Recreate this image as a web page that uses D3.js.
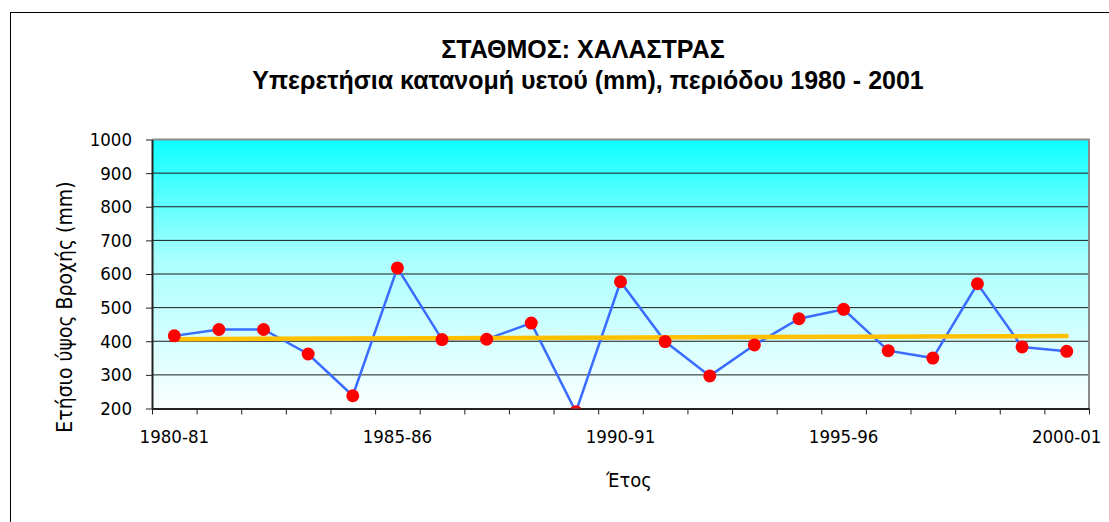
<!DOCTYPE html>
<html>
<head>
<meta charset="utf-8">
<script src="https://cdn.jsdelivr.net/npm/d3@7"></script>
<style>
  body { margin: 0; background: #fff; }
  svg { display: block; }
  .tick text { font-family: "DejaVu Sans Condensed", "DejaVu Sans", sans-serif; font-size: 18.5px; fill: #000; }
  .axis-title { font-family: "DejaVu Sans Condensed", "DejaVu Sans", sans-serif; }
</style>
</head>
<body>
<div class="chart"></div>
<script>
// Chart data (annual rainfall, mm)
const seasons = ['1980-81', '1981-82', '1982-83', '1983-84', '1984-85', '1985-86', '1986-87',
  '1987-88', '1988-89', '1989-90', '1990-91', '1991-92', '1992-93', '1993-94', '1994-95',
  '1995-96', '1996-97', '1997-98', '1998-99', '1999-00', '2000-01'];
const rainfall = [416, 435, 435, 362, 238, 618, 405, 406, 454, 190, 577,
  399, 297, 389, 467, 495, 372, 350, 571, 383, 370];
const labelledSeasons = ['1980-81', '1985-86', '1990-91', '1995-96', '2000-01'];
const yTicks = [200, 300, 400, 500, 600, 700, 800, 900, 1000];

const width = 1109, height = 522;
const plot = { left: 152, right: 1089, top: 139.5, bottom: 408.5 };

const svg = d3.select('.chart').append('svg')
    .attr('width', width)
    .attr('height', height);

// outer chart frame
svg.append('rect')
    .attr('x', 10.5).attr('y', 12.5)
    .attr('width', 1180).attr('height', 530)
    .attr('fill', 'none').attr('stroke', '#000').attr('stroke-width', 1);

// Scales
const xScale = d3.scaleBand().domain(seasons).range([plot.left, plot.right]).padding(0);
const xEdge = d3.scaleLinear().domain([0, seasons.length]).range([plot.left, plot.right]);
const yScale = d3.scaleLinear().domain([200, 1000]).range([plot.bottom, plot.top]);
const cx = s => xScale(s) + xScale.bandwidth() / 2;

// plot background gradient
const defs = svg.append('defs');
const grad = defs.append('linearGradient').attr('id', 'bg')
    .attr('x1', 0).attr('y1', 0).attr('x2', 0).attr('y2', 1);
grad.append('stop').attr('offset', '0%').attr('stop-color', '#0dffff');
grad.append('stop').attr('offset', '45%').attr('stop-color', '#aaffff');
grad.append('stop').attr('offset', '100%').attr('stop-color', '#fbffff');

defs.append('clipPath').attr('id', 'plotClip').append('rect')
    .attr('x', plot.left).attr('y', plot.top)
    .attr('width', plot.right - plot.left).attr('height', plot.bottom - plot.top);

svg.append('rect')
    .attr('x', plot.left).attr('y', plot.top)
    .attr('width', plot.right - plot.left).attr('height', plot.bottom - plot.top)
    .attr('fill', 'url(#bg)');

// gridlines
svg.append('g').selectAll('line')
    .data(yTicks.filter(v => v > 200 && v < 1000))
    .join('line')
    .attr('x1', plot.left).attr('x2', plot.right)
    .attr('y1', d => yScale(d)).attr('y2', d => yScale(d))
    .attr('stroke', '#1a1a1a').attr('stroke-width', 1);

// plot border (top, right)
svg.append('path')
    .attr('d', `M${plot.left},${plot.top}H${plot.right}V${plot.bottom}`)
    .attr('fill', 'none').attr('stroke', '#8c8c8c').attr('stroke-width', 2);

// Y axis
const yAxis = svg.append('g').attr('transform', `translate(${plot.left},0)`)
    .call(d3.axisLeft(yScale).tickValues(yTicks).tickFormat(d3.format('d'))
        .tickSize(6).tickPadding(14).tickSizeOuter(0));
yAxis.select('.domain').attr('stroke', '#222').attr('stroke-width', 2);
yAxis.selectAll('.tick line').attr('stroke', '#222');

// X axis: tick marks on category edges, labels on categories
const xAxis = svg.append('g').attr('transform', `translate(0,${plot.bottom})`)
    .call(d3.axisBottom(xEdge).tickValues(d3.range(0, seasons.length + 1)).tickFormat('').tickSize(6).tickSizeOuter(0));
xAxis.select('.domain').attr('stroke', '#222').attr('stroke-width', 2);
xAxis.selectAll('.tick line').attr('stroke', '#222');

svg.append('g').attr('transform', `translate(0,${plot.bottom})`)
    .call(d3.axisBottom(xScale).tickValues(labelledSeasons).tickSize(0).tickPadding(21.5))
    .call(g => g.select('.domain').remove());

// series, clipped to the plot area
const series = svg.append('g').attr('clip-path', 'url(#plotClip)');

const line = d3.line().x((d, i) => cx(seasons[i])).y(d => yScale(d));
series.append('path')
    .datum(rainfall)
    .attr('d', line)
    .attr('fill', 'none')
    .attr('stroke', '#3a6cff')
    .attr('stroke-width', 2.5);

// linear trend line
const n = rainfall.length;
const meanX = (n - 1) / 2, meanY = d3.mean(rainfall);
const slope = d3.sum(rainfall, (v, i) => (i - meanX) * (v - meanY)) / d3.sum(rainfall, (v, i) => (i - meanX) ** 2);
const trend = [0, n - 1].map(i => ({ s: seasons[i], v: meanY + slope * (i - meanX) }));
series.append('path')
    .datum(trend)
    .attr('d', d3.line().x(d => cx(d.s)).y(d => yScale(d.v)))
    .attr('fill', 'none')
    .attr('stroke', '#ffc000')
    .attr('stroke-width', 4.5)
    .attr('stroke-linecap', 'round');

series.selectAll('circle')
    .data(rainfall)
    .join('circle')
    .attr('cx', (d, i) => cx(seasons[i]))
    .attr('cy', d => yScale(d))
    .attr('r', 6.5)
    .attr('fill', '#ff0000');

// Titles
svg.append('text')
    .attr('x', 583).attr('y', 58)
    .attr('text-anchor', 'middle')
    .style('font-family', '"Liberation Sans", Arial, sans-serif')
    .style('font-size', '25px').style('font-weight', 'bold')
    .text('ΣΤΑΘΜΟΣ: ΧΑΛΑΣΤΡΑΣ');
svg.append('text')
    .attr('x', 588).attr('y', 89)
    .attr('text-anchor', 'middle')
    .style('font-family', '"Liberation Sans", Arial, sans-serif')
    .style('font-size', '25px').style('font-weight', 'bold')
    .text('Υπερετήσια κατανομή υετού (mm), περιόδου 1980 - 2001');

// Axis labels
svg.append('text')
    .attr('class', 'axis-title')
    .attr('x', 629).attr('y', 487)
    .attr('text-anchor', 'middle')
    .style('font-size', '20px')
    .text('Έτος');
svg.append('text')
    .attr('class', 'axis-title')
    .attr('transform', 'translate(72,307) rotate(-90)')
    .attr('text-anchor', 'middle')
    .style('font-size', '21px')
    .text('Ετήσιο ύψος Βροχής (mm)');
</script>
</body>
</html>
